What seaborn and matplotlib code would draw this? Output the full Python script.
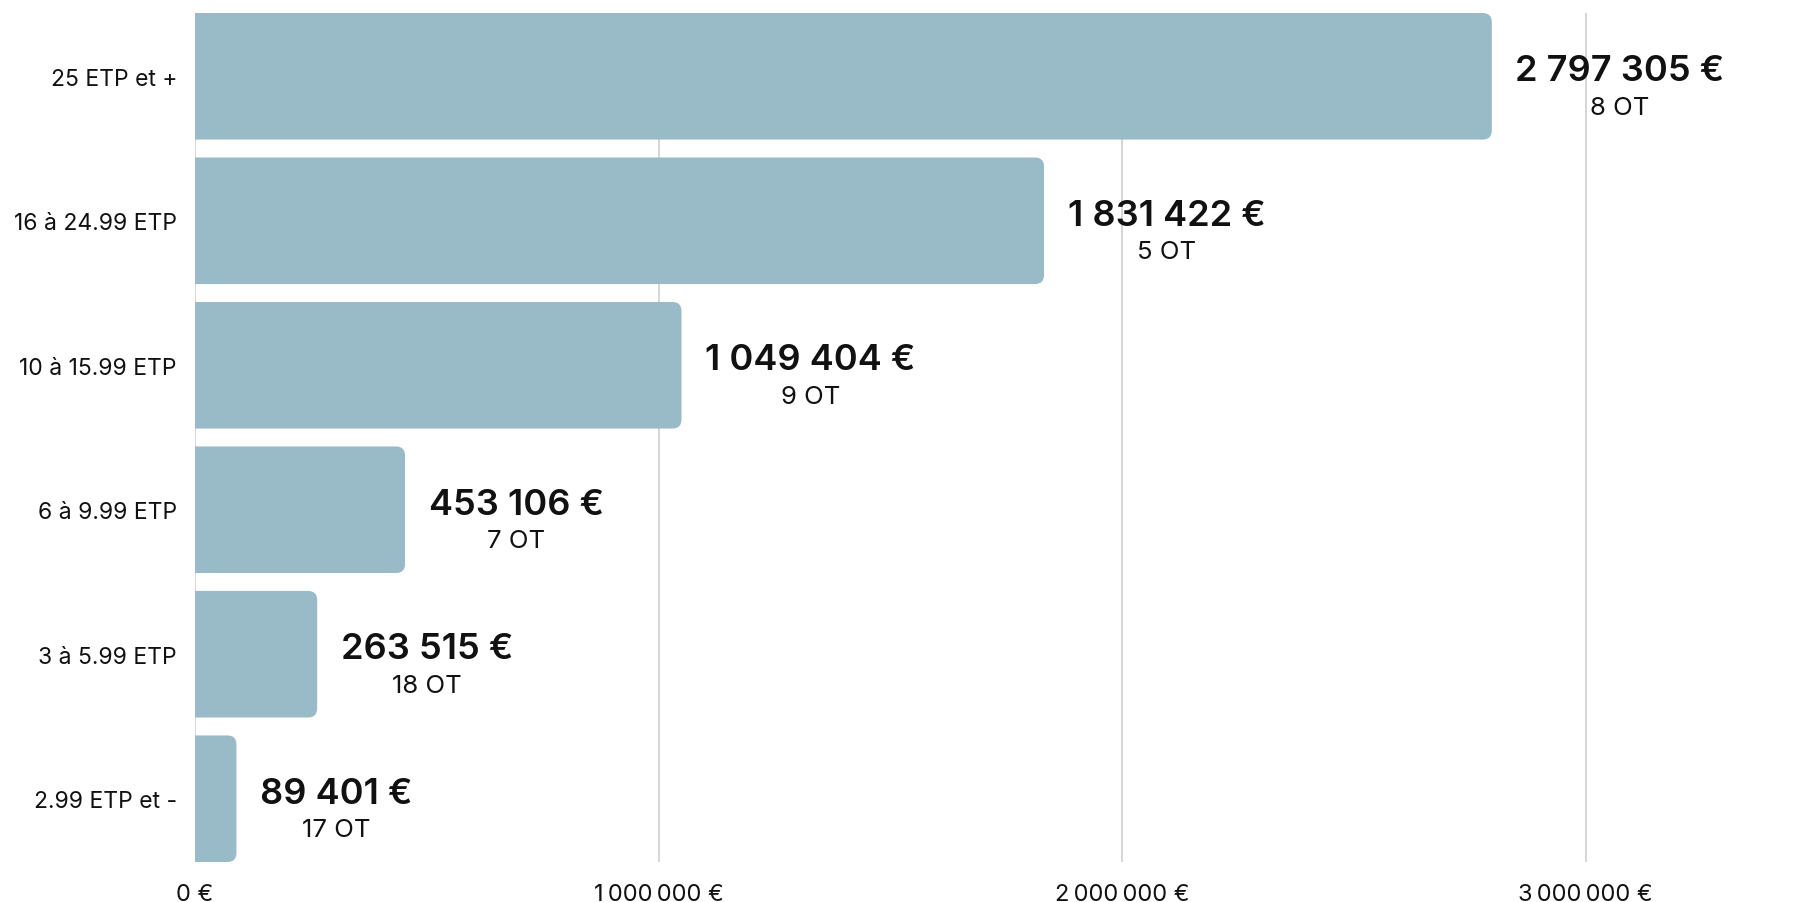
import matplotlib
matplotlib.use("Agg")
import matplotlib.pyplot as plt
from matplotlib.patches import FancyBboxPatch
from matplotlib.transforms import IdentityTransform
from matplotlib.ticker import FuncFormatter
import seaborn as sns

# Budget by workforce size of the tourist offices
categories = ["25 ETP et +", "16 à 24.99 ETP", "10 à 15.99 ETP",
              "6 à 9.99 ETP", "3 à 5.99 ETP", "2.99 ETP et -"]
amounts = [2797305, 1831422, 1049404, 453106, 263515, 89401]
office_counts = [8, 5, 9, 7, 18, 17]
x_ticks = [0, 1000000, 2000000, 3000000]

BAR_COLOR = "#99bbc7"
TEXT_COLOR = "#111111"
GRID_COLOR = "#cfcfcf"

sns.set_theme(style="white")
plt.rcParams["font.family"] = ["Inter", "DejaVu Sans"]

W, H, DPI = 1798, 903, 100
fig = plt.figure(figsize=(W / DPI, H / DPI), dpi=DPI)
ax = fig.add_axes([195 / W, 1 - 863 / H, 1 - 195 / W - 0.002, (863 - 14) / H])

sns.barplot(x=amounts, y=categories, orient="h", color=BAR_COLOR,
            saturation=1, width=0.876, ax=ax)

n = len(categories)
ax.set_xlim(0, 3.45e6)
ax.set_ylim(n - 1 + 0.438, -0.438)

# Grid and axes styling
ax.set_axisbelow(True)
ax.set_xticks(x_ticks)
ax.grid(axis="x", color=GRID_COLOR, linewidth=1.2)
ax.grid(axis="y", visible=False)
for s in ax.spines.values():
    s.set_visible(False)
ax.tick_params(axis="both", length=0)
ax.tick_params(axis="y", pad=13, labelsize=16.5, labelcolor=TEXT_COLOR)
ax.tick_params(axis="x", pad=15, labelsize=17, labelcolor=TEXT_COLOR)
ax.xaxis.set_major_formatter(
    FuncFormatter(lambda v, _: f"{int(v):,}".replace(",", "\u2009") + " €"))
for lbl in ax.get_xticklabels() + ax.get_yticklabels():
    lbl.set_fontweight("normal")
ax.set_xlabel("")
ax.set_ylabel("")

# Replace the plain rectangles with bars rounded on the right end
radius = 9
for p in list(ax.patches):
    x0, y0 = p.get_x(), p.get_y()
    x1, y1 = x0 + p.get_width(), y0 + p.get_height()
    (dx0, dy0), (dx1, dy1) = ax.transData.transform([(x0, y0), (x1, y1)])
    left, right = min(dx0, dx1) - 2 * radius, max(dx0, dx1)
    bottom, top = min(dy0, dy1), max(dy0, dy1)
    rounded = FancyBboxPatch((left, bottom), right - left, top - bottom,
                             boxstyle=f"round,pad=0,rounding_size={radius}",
                             facecolor=BAR_COLOR, edgecolor="none",
                             transform=IdentityTransform(), zorder=2)
    ax.add_artist(rounded)
    rounded.set_clip_path(ax.patch)
    p.set_visible(False)

# Value and office-count labels
for i, (amt, cnt) in enumerate(zip(amounts, office_counts)):
    value_txt = f"{amt:,}".replace(",", " ") + " €"
    t = ax.annotate(value_txt, xy=(amt, i), xytext=(17, 4),
                    textcoords="offset points", ha="left", va="center",
                    fontsize=26, fontweight="semibold", color=TEXT_COLOR)
    ax.annotate(f"{cnt} OT", xy=(0.5, 0), xycoords=t, xytext=(0, -6),
                textcoords="offset points", ha="center", va="top",
                fontsize=18.5, color=TEXT_COLOR)

fig.savefig("out.png", dpi=DPI, facecolor="white")
